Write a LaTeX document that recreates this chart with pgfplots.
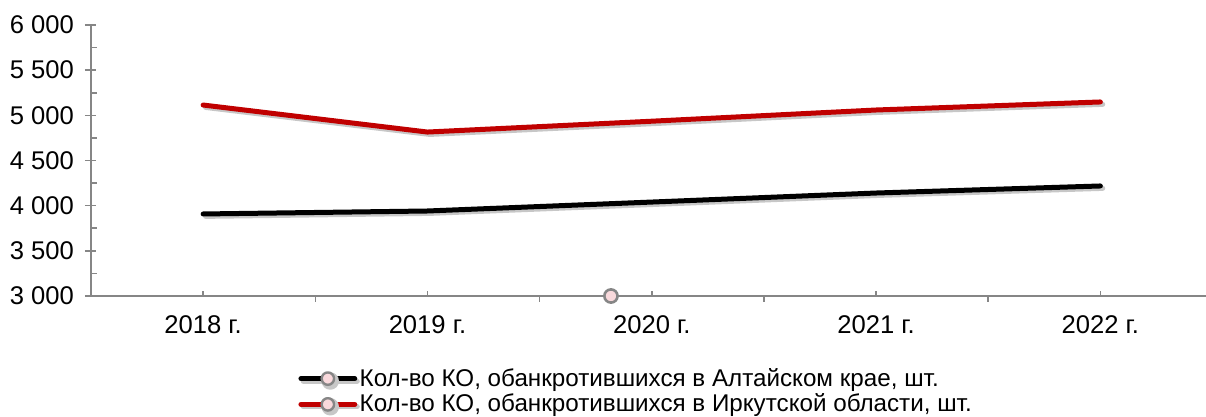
\documentclass[border=0pt]{standalone}
\usepackage{fontspec}
\setmainfont{Liberation Sans}
\usepackage{pgfplots}
\pgfplotsset{compat=1.18}

\definecolor{axgray}{HTML}{868686}
\definecolor{redline}{HTML}{C00000}
\definecolor{mkfill}{HTML}{F9D9DC}

\begin{document}
\begin{tikzpicture}
\begin{axis}[
    scale only axis,
    width=557.5pt, height=135.5pt,
    xmin=-0.5, xmax=4.471,
    ymin=3000, ymax=6000,
    axis x line=bottom, axis y line=left,
    axis line style={draw=axgray, line width=0.9pt, -},
    every tick/.style={draw=axgray, line width=0.8pt},
    tick align=inside,
    major tick length=2.7pt, minor tick length=3pt,
    xtick={0,1,2,3,4},
    xticklabels={2018 г.,2019 г.,2020 г.,2021 г.,2022 г.},
    extra x ticks={0.5,1.5,2.5,3.5},
    extra x tick labels={},
    extra x tick style={tick align=outside, major tick length=3pt},
    ytick={3000,3500,...,6000},
    minor y tick num=1,
    extra y ticks={3000,3500,...,6000},
    extra y tick labels={},
    extra y tick style={tick align=outside, major tick length=3pt},
    /pgf/number format/assume math mode=true,
    /pgf/number format/1000 sep={\ },
    ticklabel style={font=\fontsize{12.8}{14}\selectfont, text=black},
    yticklabel style={xshift=-5pt},
    xticklabel style={yshift=-6.5pt},
    clip=false,
    legend style={draw=none, fill=none, at={(0.1857,-0.25)}, anchor=north west,
        font=\fontsize{12.1}{13}\selectfont, inner sep=0pt, row sep=-1.6pt,
        cells={anchor=west}, nodes={inner xsep=1.2pt}},
    legend cell align=left,
    legend image code/.code={
        \draw[#1, line width=2.4pt, line cap=round] (0pt,0pt) -- (27pt,0pt);
        \draw[draw=axgray, fill=mkfill, line width=1.2pt] (13.5pt,0pt) circle (3.1pt);
    },
]
\addplot[black, line width=2.5pt, line cap=round, line join=round,
    preaction={draw=black!22, line width=2.5pt, transform canvas={xshift=1.2pt, yshift=-1.2pt}}]
    coordinates {(0,3908) (1,3941) (2,4040) (3,4140) (4,4218)};
\addlegendentry{Кол-во КО, обанкротившихся в Алтайском крае, шт.}
\addplot[redline, line width=2.5pt, line cap=round, line join=round,
    preaction={draw=black!22, line width=2.5pt, transform canvas={xshift=1.2pt, yshift=-1.2pt}}]
    coordinates {(0,5114) (1,4815) (2,4935) (3,5059) (4,5148)};
\addlegendentry{Кол-во КО, обанкротившихся в Иркутской области, шт.}
\addplot[forget plot, only marks, mark=*, mark size=3.3pt,
    mark options={draw=axgray, fill=mkfill, line width=1.3pt}]
    coordinates {(1.818,3000)};
\end{axis}
\pgfresetboundingbox
\path (-45.5pt,-60.5pt) rectangle (557.5pt,148pt);
\end{tikzpicture}
\end{document}
